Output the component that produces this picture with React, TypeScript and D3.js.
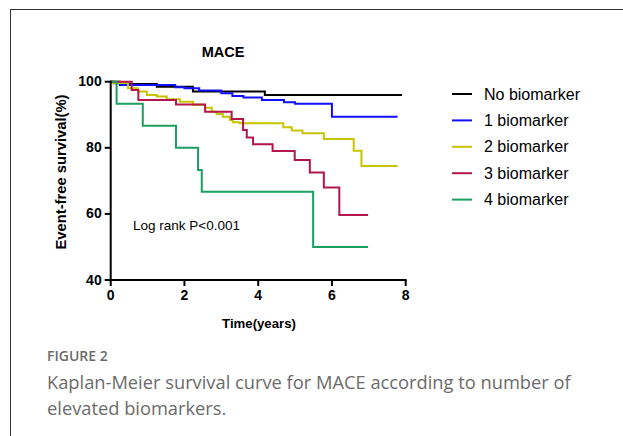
import React from "react";
import * as d3 from "d3";

const seriesNames = ["No biomarker", "1 biomarker", "2 biomarker", "3 biomarker", "4 biomarker"];
const seriesColors = ["#000000", "#1010ff", "#c8c400", "#b3164a", "#1b9e60"];

const t0 = [0, 0.25, 1.25, 2.23, 4.18, 7.9];
const s0 = [100, 99.3, 98.5, 97.0, 96.0, 96.0];

const t1 = [0, 0.07, 0.25, 1.75, 2.0, 2.4, 3.0, 3.3, 3.6, 4.1, 4.7, 5.0, 6.0, 7.78];
const s1 = [100, 99.5, 99.0, 98.3, 98.0, 97.3, 96.5, 95.7, 95.2, 94.5, 93.8, 93.3, 89.4, 89.4];

const t2 = [0, 0.06, 0.47, 0.74, 0.98, 1.25, 1.52, 1.88, 2.23, 2.56, 2.74, 2.87, 3.04, 3.23, 3.31, 3.5, 4.68, 4.91, 5.2, 5.78, 6.59, 6.8, 7.78];
const s2 = [100, 99.6, 98.0, 97.0, 96.0, 95.5, 94.7, 93.9, 93.0, 92.1, 90.9, 90.2, 89.4, 88.4, 87.7, 87.4, 86.2, 85.2, 84.4, 82.7, 79.1, 74.5, 74.5];

const t3 = [0, 0.57, 0.75, 1.77, 2.56, 3.28, 3.59, 3.69, 3.86, 4.39, 4.99, 5.4, 5.78, 6.2, 6.98];
const s3 = [100, 97.5, 94.5, 93.1, 90.9, 88.7, 85.4, 83.1, 81.1, 79.0, 76.3, 72.5, 68.0, 59.7, 59.7];

const t4 = [0, 0.16, 0.87, 1.77, 2.37, 2.47, 5.49, 6.98];
const s4 = [100, 93.3, 86.7, 80.0, 73.3, 66.7, 50.0, 50.0];

const xTicks = [0, 2, 4, 6, 8];
const yTicks = [40, 60, 80, 100];

const allTimes = [t0, t1, t2, t3, t4];
const allSurv = [s0, s1, s2, s3, s4];

export default function App() {
  const x = d3.scaleLinear().domain([0, 8]).range([110.7, 405.7]);
  const y = d3.scaleLinear().domain([40, 100]).range([280, 81.7]);
  const line = d3
    .line<[number, number]>()
    .x((d) => x(d[0]))
    .y((d) => y(d[1]))
    .curve(d3.curveStepAfter);
  const font = "'Liberation Sans', Arial, sans-serif";
  const capFont = "'Open Sans', sans-serif";
  const seriesData = allTimes.map((ts, i) =>
    ts.map((t, j) => [t, allSurv[i][j]] as [number, number])
  );

  return (
    <svg
      width={623}
      height={436}
      style={{ position: "absolute", left: 0, top: 0, background: "#fff" }}
    >
      <rect x={10.5} y={9.5} width={640} height={460} fill="none" stroke="#333" strokeWidth={1} />
      <text x={223} y={57} textAnchor="middle" fontFamily={font} fontWeight="bold" fontSize={14.5}>
        MACE
      </text>
      {seriesData.map((d, i) => (
        <path key={i} d={line(d) || ""} fill="none" stroke={seriesColors[i]} strokeWidth={2} />
      ))}
      <line x1={x(0)} x2={x(0)} y1={y(100) - 1} y2={y(40) + 1} stroke="#000" strokeWidth={2} />
      <line x1={x(0) - 1} x2={x(8) + 1} y1={y(40)} y2={y(40)} stroke="#000" strokeWidth={2} />
      {yTicks.map((v) => (
        <g key={v}>
          <line x1={x(0) - 6} x2={x(0)} y1={y(v)} y2={y(v)} stroke="#000" strokeWidth={2} />
          <text x={x(0) - 9} y={y(v) + 4.5} textAnchor="end" fontFamily={font} fontWeight="bold" fontSize={14}>
            {v}
          </text>
        </g>
      ))}
      {xTicks.map((v) => (
        <g key={v}>
          <line x1={x(v)} x2={x(v)} y1={y(40)} y2={y(40) + 6} stroke="#000" strokeWidth={2} />
          <text x={x(v)} y={y(40) + 20} textAnchor="middle" fontFamily={font} fontWeight="bold" fontSize={14}>
            {v}
          </text>
        </g>
      ))}
      <text
        transform={`translate(66,172) rotate(-90)`}
        textAnchor="middle"
        fontFamily={font}
        fontWeight="bold"
        fontSize={14}
        textLength={155}
        lengthAdjust="spacingAndGlyphs"
      >
        Event-free survival(%)
      </text>
      <text x={259} y={328} textAnchor="middle" fontFamily={font} fontWeight="bold" fontSize={13.2}>
        Time(years)
      </text>
      <text x={133} y={230} fontFamily={font} fontSize={13.5}>
        Log rank P&lt;0.001
      </text>
      {seriesNames.map((n, i) => (
        <g key={n}>
          <line x1={452} x2={472} y1={94 + i * 26.4} y2={94 + i * 26.4} stroke={seriesColors[i]} strokeWidth={2} />
          <text x={484} y={94 + i * 26.4 + 5.5} fontFamily={font} fontSize={16}>
            {n}
          </text>
        </g>
      ))}
      <text x={47} y={361} fontFamily={capFont} fontSize={14} fontWeight={600} fill="#6b6b6b">
        FIGURE 2
      </text>
      <text x={47} y={389} fontFamily={capFont} fontSize={18.3} fill="#6b6b6b">
        Kaplan-Meier survival curve for MACE according to number of
      </text>
      <text x={47} y={415} fontFamily={capFont} fontSize={18.3} fill="#6b6b6b">
        elevated biomarkers.
      </text>
    </svg>
  );
}
